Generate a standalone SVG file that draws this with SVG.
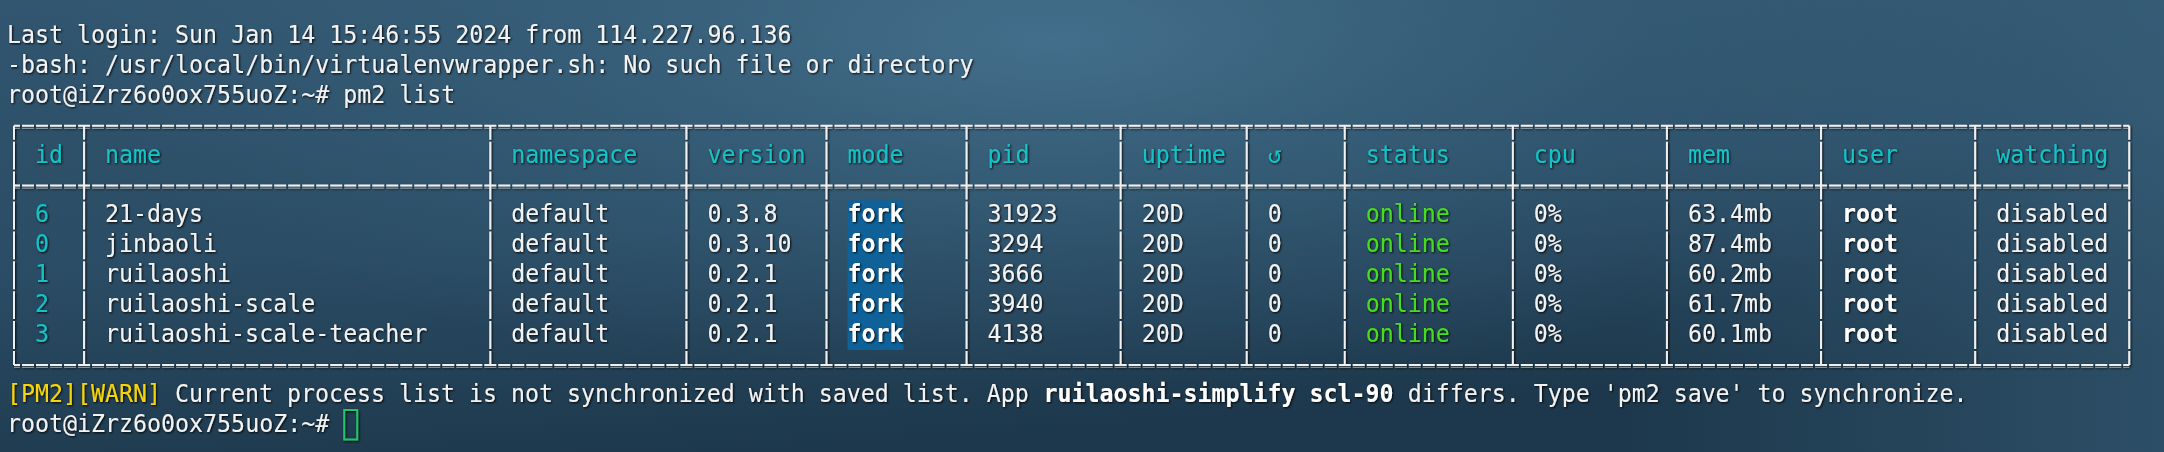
<svg xmlns="http://www.w3.org/2000/svg" width="2164" height="452" viewBox="0 0 2164 452">
<defs>
<linearGradient id="bg" x1="0" y1="0" x2="0.35" y2="1">
<stop offset="0" stop-color="#325670"/>
<stop offset="0.55" stop-color="#2a4c64"/>
<stop offset="1" stop-color="#1d384c"/>
</linearGradient>
<radialGradient id="glow" cx="1050" cy="40" r="1000" gradientUnits="userSpaceOnUse" gradientTransform="translate(1050 40) scale(1 0.35) translate(-1050 -40)">
<stop offset="0" stop-color="#4a7896" stop-opacity="0.75"/>
<stop offset="0.6" stop-color="#3e6a86" stop-opacity="0.3"/>
<stop offset="1" stop-color="#3e6a86" stop-opacity="0"/>
</radialGradient>
<linearGradient id="rside" x1="0" y1="0" x2="1" y2="0">
<stop offset="0.75" stop-color="#3f6a86" stop-opacity="0"/>
<stop offset="1" stop-color="#3f6a86" stop-opacity="0.45"/>
</linearGradient>
<filter id="sh" x="-5%" y="-20%" width="110%" height="140%">
<feDropShadow dx="1" dy="1" stdDeviation="1.1" flood-color="#000" flood-opacity="0.95"/>
</filter>
</defs>
<style>
text{font-family:"DejaVu Sans Mono","Liberation Mono",monospace;font-size:25px;fill:#f2f2f2;white-space:pre}
.h{fill:#12c2c6}
.g{fill:#45dc20}
.y{fill:#f6d40a}
.b{font-weight:bold;fill:#ffffff}
.hl{fill:#0e6299}
.hz{stroke:#f0f0f0;stroke-width:2;fill:none;stroke-dasharray:12.008 2;stroke-dashoffset:6}
.hz2{stroke:#a9b6bd;stroke-width:1;fill:none;opacity:0.7;stroke-dasharray:12.008 2;stroke-dashoffset:6}
.vt{stroke:#f0f0f0;stroke-width:2;fill:none;stroke-dasharray:27.9 2;stroke-dashoffset:13.9}
</style>
<rect width="2164" height="452" fill="url(#bg)"/>
<rect width="2164" height="452" fill="url(#glow)"/>
<rect width="2164" height="452" fill="url(#rside)"/>

<g id="login-lines" filter="url(#sh)">
<text x="7" y="43" textLength="784.45" lengthAdjust="spacingAndGlyphs">Last login: Sun Jan 14 15:46:55 2024 from 114.227.96.136</text>
<text x="7" y="72.9" textLength="966.55" lengthAdjust="spacingAndGlyphs">-bash: /usr/local/bin/virtualenvwrapper.sh: No such file or directory</text>
<text x="7" y="102.8" textLength="448.26" lengthAdjust="spacingAndGlyphs">root@iZrz6o0ox755uoZ:~# pm2 list</text>
</g>

<g id="table-borders" filter="url(#sh)">
<path class="hz2" d="M14 128.4H2129.2M14 188.2H2129.2M14 367.4H2129.2"/>
<path class="hz" d="M14 125.7H2129.2M14 185.5H2129.2M14 364.9H2129.2"/>
<path class="vt" d="M14 125.7V364.9M84.04 125.7V364.9M490.27 125.7V364.9M686.38 125.7V364.9M826.46 125.7V364.9M966.54 125.7V364.9M1120.63 125.7V364.9M1246.7 125.7V364.9M1344.76 125.7V364.9M1512.86 125.7V364.9M1666.94 125.7V364.9M1821.03 125.7V364.9M1975.12 125.7V364.9M2129.21 125.7V364.9"/>
</g>

<g id="header-row" filter="url(#sh)">
<text class="h" x="35.02" y="162.6" textLength="28.02" lengthAdjust="spacingAndGlyphs">id</text>
<text class="h" x="105.06" y="162.6" textLength="56.03" lengthAdjust="spacingAndGlyphs">name</text>
<text class="h" x="511.29" y="162.6" textLength="126.07" lengthAdjust="spacingAndGlyphs">namespace</text>
<text class="h" x="707.4" y="162.6" textLength="98.06" lengthAdjust="spacingAndGlyphs">version</text>
<text class="h" x="847.48" y="162.6" textLength="56.03" lengthAdjust="spacingAndGlyphs">mode</text>
<text class="h" x="987.56" y="162.6" textLength="42.02" lengthAdjust="spacingAndGlyphs">pid</text>
<text class="h" x="1141.65" y="162.6" textLength="84.05" lengthAdjust="spacingAndGlyphs">uptime</text>
<text class="h" x="1267.72" y="162.6" textLength="14.01" lengthAdjust="spacingAndGlyphs">↺</text>
<text class="h" x="1365.78" y="162.6" textLength="84.05" lengthAdjust="spacingAndGlyphs">status</text>
<text class="h" x="1533.87" y="162.6" textLength="42.02" lengthAdjust="spacingAndGlyphs">cpu</text>
<text class="h" x="1687.96" y="162.6" textLength="42.02" lengthAdjust="spacingAndGlyphs">mem</text>
<text class="h" x="1842.05" y="162.6" textLength="56.03" lengthAdjust="spacingAndGlyphs">user</text>
<text class="h" x="1996.14" y="162.6" textLength="112.06" lengthAdjust="spacingAndGlyphs">watching</text>
</g>

<g id="fork-highlights">
<rect class="hl" x="847.5" y="200.4" width="56" height="30"/>
<rect class="hl" x="847.5" y="230.3" width="56" height="30"/>
<rect class="hl" x="847.5" y="260.2" width="56" height="30"/>
<rect class="hl" x="847.5" y="290.1" width="56" height="30"/>
<rect class="hl" x="847.5" y="320" width="56" height="30"/>
</g>

<g id="row-21-days" filter="url(#sh)">
<text class="h" x="35.02" y="222.4" textLength="14.01" lengthAdjust="spacingAndGlyphs">6</text>
<text x="105.06" y="222.4" textLength="98.06" lengthAdjust="spacingAndGlyphs">21-days</text>
<text x="511.29" y="222.4" textLength="98.06" lengthAdjust="spacingAndGlyphs">default</text>
<text x="707.4" y="222.4" textLength="70.04" lengthAdjust="spacingAndGlyphs">0.3.8</text>
<text class="b" x="847.48" y="222.4" textLength="56.03" lengthAdjust="spacingAndGlyphs">fork</text>
<text x="987.56" y="222.4" textLength="70.04" lengthAdjust="spacingAndGlyphs">31923</text>
<text x="1141.65" y="222.4" textLength="42.02" lengthAdjust="spacingAndGlyphs">20D</text>
<text x="1267.72" y="222.4" textLength="14.01" lengthAdjust="spacingAndGlyphs">0</text>
<text class="g" x="1365.78" y="222.4" textLength="84.05" lengthAdjust="spacingAndGlyphs">online</text>
<text x="1533.87" y="222.4" textLength="28.02" lengthAdjust="spacingAndGlyphs">0%</text>
<text x="1687.96" y="222.4" textLength="84.05" lengthAdjust="spacingAndGlyphs">63.4mb</text>
<text class="b" x="1842.05" y="222.4" textLength="56.03" lengthAdjust="spacingAndGlyphs">root</text>
<text x="1996.14" y="222.4" textLength="112.06" lengthAdjust="spacingAndGlyphs">disabled</text>
</g>

<g id="row-jinbaoli" filter="url(#sh)">
<text class="h" x="35.02" y="252.3" textLength="14.01" lengthAdjust="spacingAndGlyphs">0</text>
<text x="105.06" y="252.3" textLength="112.06" lengthAdjust="spacingAndGlyphs">jinbaoli</text>
<text x="511.29" y="252.3" textLength="98.06" lengthAdjust="spacingAndGlyphs">default</text>
<text x="707.4" y="252.3" textLength="84.05" lengthAdjust="spacingAndGlyphs">0.3.10</text>
<text class="b" x="847.48" y="252.3" textLength="56.03" lengthAdjust="spacingAndGlyphs">fork</text>
<text x="987.56" y="252.3" textLength="56.03" lengthAdjust="spacingAndGlyphs">3294</text>
<text x="1141.65" y="252.3" textLength="42.02" lengthAdjust="spacingAndGlyphs">20D</text>
<text x="1267.72" y="252.3" textLength="14.01" lengthAdjust="spacingAndGlyphs">0</text>
<text class="g" x="1365.78" y="252.3" textLength="84.05" lengthAdjust="spacingAndGlyphs">online</text>
<text x="1533.87" y="252.3" textLength="28.02" lengthAdjust="spacingAndGlyphs">0%</text>
<text x="1687.96" y="252.3" textLength="84.05" lengthAdjust="spacingAndGlyphs">87.4mb</text>
<text class="b" x="1842.05" y="252.3" textLength="56.03" lengthAdjust="spacingAndGlyphs">root</text>
<text x="1996.14" y="252.3" textLength="112.06" lengthAdjust="spacingAndGlyphs">disabled</text>
</g>

<g id="row-ruilaoshi" filter="url(#sh)">
<text class="h" x="35.02" y="282.2" textLength="14.01" lengthAdjust="spacingAndGlyphs">1</text>
<text x="105.06" y="282.2" textLength="126.07" lengthAdjust="spacingAndGlyphs">ruilaoshi</text>
<text x="511.29" y="282.2" textLength="98.06" lengthAdjust="spacingAndGlyphs">default</text>
<text x="707.4" y="282.2" textLength="70.04" lengthAdjust="spacingAndGlyphs">0.2.1</text>
<text class="b" x="847.48" y="282.2" textLength="56.03" lengthAdjust="spacingAndGlyphs">fork</text>
<text x="987.56" y="282.2" textLength="56.03" lengthAdjust="spacingAndGlyphs">3666</text>
<text x="1141.65" y="282.2" textLength="42.02" lengthAdjust="spacingAndGlyphs">20D</text>
<text x="1267.72" y="282.2" textLength="14.01" lengthAdjust="spacingAndGlyphs">0</text>
<text class="g" x="1365.78" y="282.2" textLength="84.05" lengthAdjust="spacingAndGlyphs">online</text>
<text x="1533.87" y="282.2" textLength="28.02" lengthAdjust="spacingAndGlyphs">0%</text>
<text x="1687.96" y="282.2" textLength="84.05" lengthAdjust="spacingAndGlyphs">60.2mb</text>
<text class="b" x="1842.05" y="282.2" textLength="56.03" lengthAdjust="spacingAndGlyphs">root</text>
<text x="1996.14" y="282.2" textLength="112.06" lengthAdjust="spacingAndGlyphs">disabled</text>
</g>

<g id="row-ruilaoshi-scale" filter="url(#sh)">
<text class="h" x="35.02" y="312.1" textLength="14.01" lengthAdjust="spacingAndGlyphs">2</text>
<text x="105.06" y="312.1" textLength="210.12" lengthAdjust="spacingAndGlyphs">ruilaoshi-scale</text>
<text x="511.29" y="312.1" textLength="98.06" lengthAdjust="spacingAndGlyphs">default</text>
<text x="707.4" y="312.1" textLength="70.04" lengthAdjust="spacingAndGlyphs">0.2.1</text>
<text class="b" x="847.48" y="312.1" textLength="56.03" lengthAdjust="spacingAndGlyphs">fork</text>
<text x="987.56" y="312.1" textLength="56.03" lengthAdjust="spacingAndGlyphs">3940</text>
<text x="1141.65" y="312.1" textLength="42.02" lengthAdjust="spacingAndGlyphs">20D</text>
<text x="1267.72" y="312.1" textLength="14.01" lengthAdjust="spacingAndGlyphs">0</text>
<text class="g" x="1365.78" y="312.1" textLength="84.05" lengthAdjust="spacingAndGlyphs">online</text>
<text x="1533.87" y="312.1" textLength="28.02" lengthAdjust="spacingAndGlyphs">0%</text>
<text x="1687.96" y="312.1" textLength="84.05" lengthAdjust="spacingAndGlyphs">61.7mb</text>
<text class="b" x="1842.05" y="312.1" textLength="56.03" lengthAdjust="spacingAndGlyphs">root</text>
<text x="1996.14" y="312.1" textLength="112.06" lengthAdjust="spacingAndGlyphs">disabled</text>
</g>

<g id="row-ruilaoshi-scale-teacher" filter="url(#sh)">
<text class="h" x="35.02" y="342" textLength="14.01" lengthAdjust="spacingAndGlyphs">3</text>
<text x="105.06" y="342" textLength="322.18" lengthAdjust="spacingAndGlyphs">ruilaoshi-scale-teacher</text>
<text x="511.29" y="342" textLength="98.06" lengthAdjust="spacingAndGlyphs">default</text>
<text x="707.4" y="342" textLength="70.04" lengthAdjust="spacingAndGlyphs">0.2.1</text>
<text class="b" x="847.48" y="342" textLength="56.03" lengthAdjust="spacingAndGlyphs">fork</text>
<text x="987.56" y="342" textLength="56.03" lengthAdjust="spacingAndGlyphs">4138</text>
<text x="1141.65" y="342" textLength="42.02" lengthAdjust="spacingAndGlyphs">20D</text>
<text x="1267.72" y="342" textLength="14.01" lengthAdjust="spacingAndGlyphs">0</text>
<text class="g" x="1365.78" y="342" textLength="84.05" lengthAdjust="spacingAndGlyphs">online</text>
<text x="1533.87" y="342" textLength="28.02" lengthAdjust="spacingAndGlyphs">0%</text>
<text x="1687.96" y="342" textLength="84.05" lengthAdjust="spacingAndGlyphs">60.1mb</text>
<text class="b" x="1842.05" y="342" textLength="56.03" lengthAdjust="spacingAndGlyphs">root</text>
<text x="1996.14" y="342" textLength="112.06" lengthAdjust="spacingAndGlyphs">disabled</text>
</g>

<g id="warning" filter="url(#sh)">
<g transform="matrix(0.93068 0 0 1 7 0)">
<text class="y" x="0" y="402.5">[PM2][WARN]</text>
<text x="180.61" y="402.5">Current process list is not synchronized with saved list. App</text>
<text class="b" x="1113.77" y="402.5">ruilaoshi-simplify scl-90</text>
<text x="1505.1" y="402.5">differs. Type 'pm2 save' to synchronize.</text>
</g>
</g>

<g id="prompt" filter="url(#sh)">
<text x="7" y="431.7" textLength="322.18" lengthAdjust="spacingAndGlyphs">root@iZrz6o0ox755uoZ:~#</text>
<rect x="344.2" y="410" width="13" height="29.5" fill="none" stroke="#1ec46a" stroke-width="2"/>
</g>
</svg>
